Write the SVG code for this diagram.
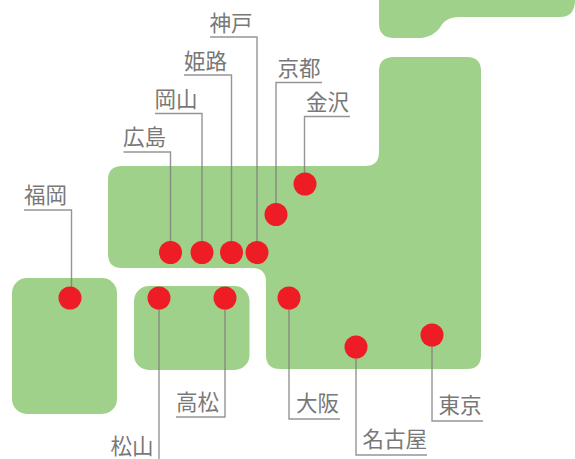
<svg xmlns="http://www.w3.org/2000/svg" width="575" height="459" viewBox="0 0 575 459">
<style>
.land{fill:#a0d18a}
.ln{fill:none;stroke:#7a7a7a;stroke-opacity:.8;stroke-width:1.4}
.dot{fill:#ee1c25}
text{font-family:"Noto Sans CJK JP","Noto Sans",sans-serif;font-size:21.500px;fill:#787878;font-weight:400}
</style>
<rect width="575" height="459" fill="#fff"/>
<g id="land">
<path class="land" d="M379 0H575Q575 17 560 17H461C448 17 443 22 441 26C437 33 428 38 420 38H394Q379 38 379 23Z"/>
<path class="land" d="M394 57H467Q481 57 481 71V355Q481 369 467 369H280Q266 369 266 355V282Q266 268 252 268H122Q108 268 108 254V180Q108 166 122 166H365Q379 166 379 152V71Q379 57 394 57Z"/>
<rect class="land" x="12" y="278" width="105" height="136" rx="15"/>
<rect class="land" x="134" y="286" width="115.500" height="84" rx="15"/>
</g>
<g id="connectors">
<path class="ln" d="M123.500 152H170.500V252"/>
<path class="ln" d="M155 113.500H202V252"/>
<path class="ln" d="M184 75H231.500V252"/>
<path class="ln" d="M210 37H257V252"/>
<path class="ln" d="M322 82.500H276V214"/>
<path class="ln" d="M350 116.500H304.500V184"/>
<path class="ln" d="M24 210H71.500V298"/>
<path class="ln" d="M176 417H225V298"/>
<path class="ln" d="M159 298V459"/>
<path class="ln" d="M340 419H289V298"/>
<path class="ln" d="M427 455H356V347"/>
<path class="ln" d="M483 421H432V335"/>
</g>
<g id="hiroshima"><circle class="dot" cx="170.500" cy="252.500" r="11.500"/><text x="123" y="145">広島</text></g>
<g id="okayama"><circle class="dot" cx="202" cy="252.500" r="11.500"/><text x="154.500" y="107">岡山</text></g>
<g id="himeji"><circle class="dot" cx="231.500" cy="252.500" r="11.500"/><text x="184" y="69">姫路</text></g>
<g id="kobe"><circle class="dot" cx="257" cy="252.500" r="11.500"/><text x="209.500" y="31">神戸</text></g>
<g id="kyoto"><circle class="dot" cx="276" cy="214.500" r="11.500"/><text x="277.500" y="76">京都</text></g>
<g id="kanazawa"><circle class="dot" cx="305" cy="184" r="11.500"/><text x="306" y="110">金沢</text></g>
<g id="fukuoka"><circle class="dot" cx="70" cy="298" r="11.500"/><text x="24" y="203">福岡</text></g>
<g id="matsuyama"><circle class="dot" cx="159" cy="298" r="11.500"/><text x="110.500" y="453.500">松山</text></g>
<g id="takamatsu"><circle class="dot" cx="225" cy="298" r="11.500"/><text x="176" y="410">高松</text></g>
<g id="osaka"><circle class="dot" cx="289" cy="298" r="11.500"/><text x="296" y="411">大阪</text></g>
<g id="nagoya"><circle class="dot" cx="356" cy="347" r="11.500"/><text x="362.500" y="447">名古屋</text></g>
<g id="tokyo"><circle class="dot" cx="432" cy="335" r="11.500"/><text x="438.500" y="413">東京</text></g>
</svg>
